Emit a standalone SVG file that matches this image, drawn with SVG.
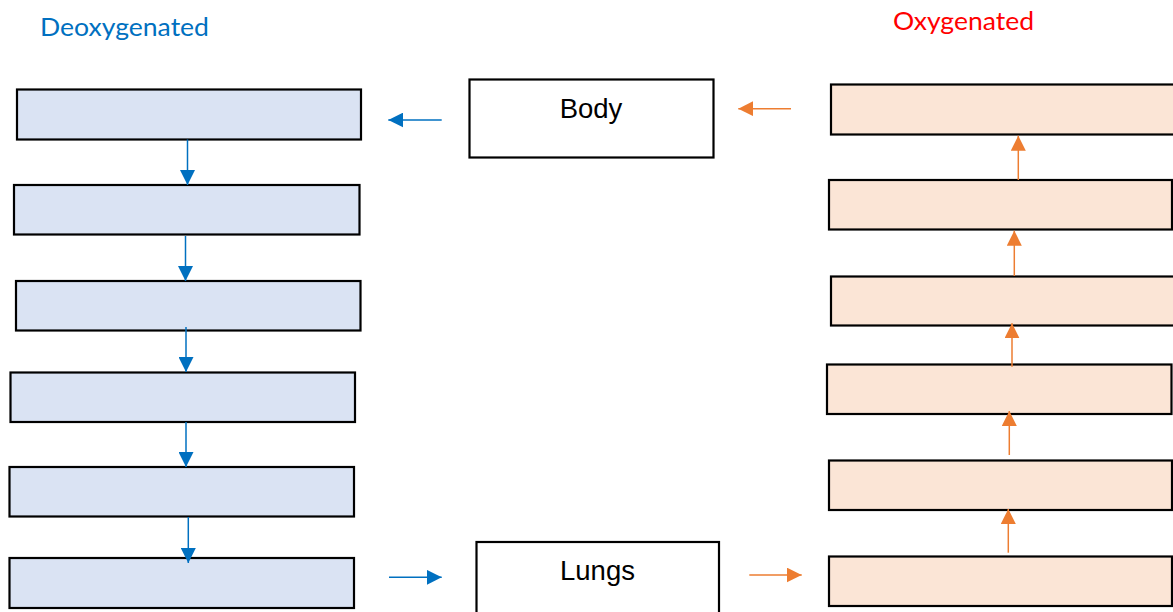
<svg xmlns="http://www.w3.org/2000/svg" width="1173" height="612" viewBox="0 0 1173 612">
  <style>
    .box { stroke: #000; stroke-width: 2.2; }
    .deox { fill: #DAE3F3; }
    .ox { fill: #FBE5D6; }
    .plain { fill: #FFFFFF; }
    .lbl { font-family: "Liberation Sans", Arial, sans-serif; font-size: 27.5px; fill: #000; text-anchor: middle; }
    .head { font-family: Lato, "Open Sans", sans-serif; font-size: 25px; }
    .cb { stroke: #0070C0; stroke-width: 1.5; fill: none; marker-end: url(#ab); }
    .co { stroke: #ED7D31; stroke-width: 1.5; fill: none; marker-end: url(#ao); }
  </style>
  <defs>
    <marker id="ab" viewBox="0 0 10 10" refX="10" refY="5" markerWidth="15" markerHeight="15" markerUnits="userSpaceOnUse" orient="auto">
      <path d="M0,0 L10,5 L0,10 z" fill="#0070C0"/>
    </marker>
    <marker id="ao" viewBox="0 0 10 10" refX="10" refY="5" markerWidth="15" markerHeight="15" markerUnits="userSpaceOnUse" orient="auto">
      <path d="M0,0 L10,5 L0,10 z" fill="#ED7D31"/>
    </marker>
  </defs>
  <rect width="1173" height="612" fill="#FFFFFF"/>

  <g id="title-deoxygenated">
    <text class="head" x="40" y="35.5" fill="#0070C0" textLength="169" lengthAdjust="spacingAndGlyphs">Deoxygenated</text>
  </g>
  <g id="title-oxygenated">
    <text class="head" x="893" y="30" fill="#FF0000" textLength="141" lengthAdjust="spacingAndGlyphs">Oxygenated</text>
  </g>

  <g id="deox-1"><rect class="box deox" x="17" y="89.5" width="344" height="50"/></g>
  <g id="deox-2"><rect class="box deox" x="14" y="185" width="345.5" height="49.5"/></g>
  <g id="deox-3"><rect class="box deox" x="16" y="281" width="344.5" height="49.5"/></g>
  <g id="deox-4"><rect class="box deox" x="10.5" y="372.5" width="344.5" height="49.5"/></g>
  <g id="deox-5"><rect class="box deox" x="9.5" y="467" width="344.5" height="49.5"/></g>
  <g id="deox-6"><rect class="box deox" x="9.5" y="558" width="344.5" height="50"/></g>

  <g id="ox-1"><rect class="box ox" x="831" y="84.5" width="360" height="50"/></g>
  <g id="ox-2"><rect class="box ox" x="829" y="180" width="343" height="49.5"/></g>
  <g id="ox-3"><rect class="box ox" x="831" y="276.5" width="360" height="49"/></g>
  <g id="ox-4"><rect class="box ox" x="827" y="364.5" width="344.5" height="49.5"/></g>
  <g id="ox-5"><rect class="box ox" x="829" y="460.5" width="343" height="49.5"/></g>
  <g id="ox-6"><rect class="box ox" x="829" y="556.5" width="343" height="49.5"/></g>

  <g id="body">
    <rect class="box plain" x="469.5" y="79.5" width="244" height="78"/>
    <text class="lbl" x="591" y="117.5">Body</text>
  </g>
  <g id="lungs">
    <rect class="box plain" x="476.5" y="542" width="242.5" height="80"/>
    <text class="lbl" x="597.5" y="580">Lungs</text>
  </g>

  <g id="connectors">
    <line class="cb" x1="441.7" y1="120" x2="388.3" y2="120"/>
    <line class="cb" x1="187.5" y1="139.5" x2="187.5" y2="185"/>
    <line class="cb" x1="185.5" y1="236" x2="185.5" y2="281"/>
    <line class="cb" x1="186" y1="327" x2="186" y2="372"/>
    <line class="cb" x1="186" y1="422" x2="186" y2="467"/>
    <line class="cb" x1="188.3" y1="517" x2="188.3" y2="563"/>
    <line class="cb" x1="389" y1="577.3" x2="441.7" y2="577.3"/>

    <line class="co" x1="791" y1="108.7" x2="738.3" y2="108.7"/>
    <line class="co" x1="749.3" y1="575" x2="801.7" y2="575"/>
    <line class="co" x1="1018.3" y1="180" x2="1018.3" y2="135.7"/>
    <line class="co" x1="1014.3" y1="276" x2="1014.3" y2="230.7"/>
    <line class="co" x1="1012" y1="366.7" x2="1012" y2="323.3"/>
    <line class="co" x1="1009.3" y1="455" x2="1009.3" y2="411"/>
    <line class="co" x1="1008.3" y1="552.7" x2="1008.3" y2="509"/>
  </g>
</svg>
